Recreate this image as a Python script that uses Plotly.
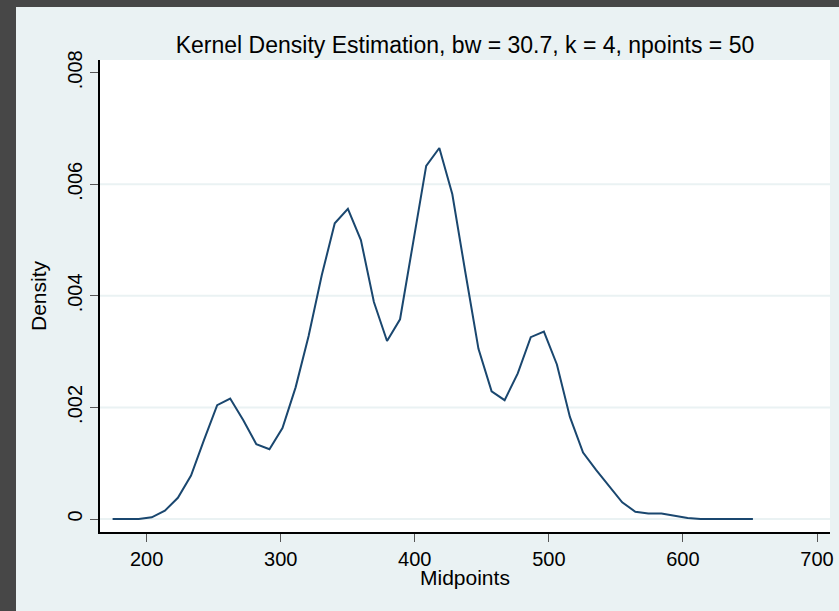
import plotly.graph_objects as go

# ---- data ----
midpoints = [174.6, 184.3, 194.1, 203.8, 213.6, 223.3, 233.1, 242.8, 252.6, 262.3,
             272.1, 281.8, 291.6, 301.3, 311.1, 320.8, 330.6, 340.3, 350.1, 359.8,
             369.5, 379.3, 389.0, 398.8, 408.5, 418.3, 428.0, 437.8, 447.5, 457.3,
             467.0, 476.8, 486.5, 496.3, 506.0, 515.7, 525.5, 535.2, 545.0, 554.7,
             564.5, 574.2, 584.0, 593.7, 603.5, 613.2, 623.0, 632.7, 642.5, 652.2]
density = [0.0, 0.0, 0.0, 0.00003, 0.00015, 0.00038, 0.00078, 0.00142, 0.00204, 0.00216,
           0.00177, 0.00134, 0.00125, 0.00163, 0.00236, 0.00328, 0.00437, 0.00530, 0.00556, 0.00500,
           0.00389, 0.00319, 0.00358, 0.00496, 0.00633, 0.00665, 0.00582, 0.00441, 0.00305, 0.00229,
           0.00213, 0.00261, 0.00326, 0.00336, 0.00277, 0.00183, 0.00119, 0.00088, 0.00059, 0.00030,
           0.00013, 0.00010, 0.00010, 0.00006, 0.00002, 0.0, 0.0, 0.0, 0.0, 0.0]

x_tickvals = [200, 300, 400, 500, 600, 700]
x_ticktext = ["200", "300", "400", "500", "600", "700"]
y_tickvals = [0, 0.002, 0.004, 0.006, 0.008]
y_ticktext = ["0", ".002", ".004", ".006", ".008"]
grid_vals = [0, 0.002, 0.004, 0.006]

title_text = "Kernel Density Estimation, bw = 30.7, k = 4, npoints = 50"
x_title = "Midpoints"
y_title = "Density"

LIGHT_BG = "#eaf2f3"
DARK = "#474747"
LINE = "#1a476f"
FONT = "Liberation Sans, Arial, sans-serif"

fig = go.Figure()
fig.add_trace(go.Scatter(x=midpoints, y=density, mode="lines",
                         line=dict(color=LINE, width=2), showlegend=False))

W, H = 839, 611
L, R, T, B = 100, 9, 60, 79
pw, ph = W - L - R, H - T - B

shapes = []
for g in grid_vals:
    shapes.append(dict(type="line", xref="paper", yref="y", x0=0, x1=1, y0=g, y1=g,
                       line=dict(color=LIGHT_BG, width=2), layer="below"))
# dark frame (top and left) of the window
shapes.append(dict(type="rect", xref="paper", yref="paper",
                   x0=-L / pw, x1=(16 - L) / pw, y0=-B / ph, y1=(H - B) / ph,
                   fillcolor=DARK, line=dict(width=0), layer="below"))
shapes.append(dict(type="rect", xref="paper", yref="paper",
                   x0=-L / pw, x1=(W - L) / pw, y0=(H - B - 7) / ph, y1=(H - B) / ph,
                   fillcolor=DARK, line=dict(width=0), layer="below"))

annotations = [
    dict(text=x_title, xref="paper", yref="paper", x=0.5, y=-(577 - (T + ph)) / ph,
         xanchor="center", yanchor="middle", showarrow=False, font=dict(size=21)),
    dict(text=y_title, xref="paper", yref="paper", x=(38 - L) / pw, y=0.5, textangle=-90,
         xanchor="center", yanchor="middle", showarrow=False, font=dict(size=21)),
]

fig.update_layout(
    width=W, height=H,
    margin=dict(l=L, r=R, t=T, b=B, autoexpand=False),
    paper_bgcolor=LIGHT_BG, plot_bgcolor="white",
    font=dict(family=FONT, color="black", size=20),
    title=dict(text=title_text, x=(L + pw / 2) / W, xanchor="center",
               y=1 - 45 / H, yanchor="middle", yref="container",
               font=dict(size=23, family=FONT, color="black")),
    shapes=shapes,
    annotations=annotations,
    xaxis=dict(range=[165.2, 709.7], tickvals=x_tickvals, ticktext=x_ticktext,
               showgrid=False, zeroline=False, showline=True, linecolor="black",
               linewidth=1.5, ticks="outside", ticklen=8, tickcolor="#555555",
               tickfont=dict(size=20)),
    yaxis=dict(range=[-0.000233, 0.008228], tickvals=y_tickvals, ticktext=y_ticktext,
               showgrid=False, zeroline=False, showline=True, linecolor="black",
               linewidth=1.5, ticks="outside", ticklen=8, tickcolor="#555555",
               tickangle=-90, tickfont=dict(size=20)),
)

fig.write_html("out.html", config={"displayModeBar": False},
               post_script="document.body.style.margin='0';document.body.style.background='%s';" % DARK)
